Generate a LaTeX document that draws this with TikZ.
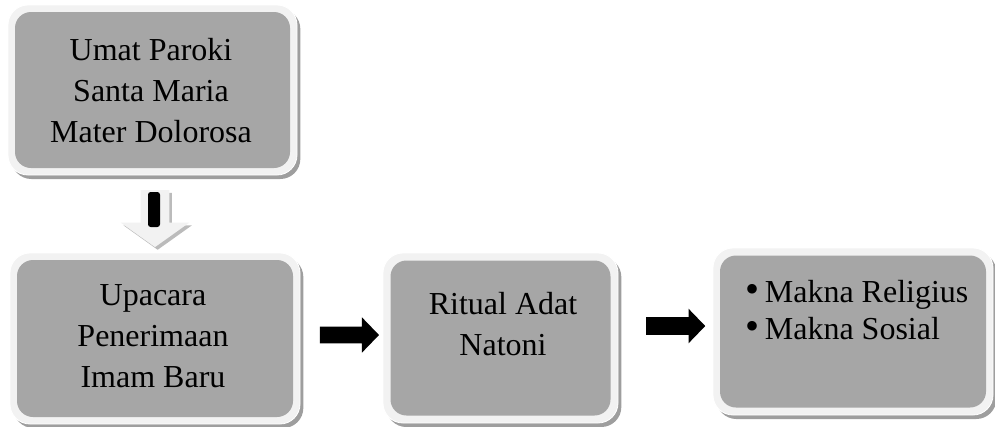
\documentclass[tikz,border=0pt]{standalone}
\usepackage{fontspec}
\setmainfont{Liberation Serif}
\usetikzlibrary{shapes.arrows,shadows,positioning,calc}
\definecolor{panelgray}{RGB}{166,166,166}
\definecolor{framegray}{RGB}{242,242,242}
\definecolor{shadegray}{RGB}{158,158,158}
\tikzset{frame/.style={fill=framegray,draw=white,line width=0.6pt,rounded corners=15pt,
    inner sep=0pt,outer sep=0pt,
    drop shadow={shadow xshift=2.5pt,shadow yshift=-3pt,fill=shadegray,opacity=1}},
  panel/.style={fill=panelgray,draw=none,rounded corners=12pt,inner sep=0pt,outer sep=0pt},
  boxtext/.style={align=center,font=\fontsize{24pt}{30.75pt}\selectfont},
  listtext/.style={align=left,font=\fontsize{24pt}{27.75pt}\selectfont},
  blockarrow/.style={single arrow,fill=black,draw=none,inner xsep=0pt,
    single arrow head indent=0pt}}
\begin{document}
\begin{tikzpicture}[x=0.75pt, y=-0.75pt]
\useasboundingbox (0,0) rectangle (995,426);
% boxes
\node[frame, minimum width=216.75pt, minimum height=127.5pt] (umatframe) at (152.5,90) {};
\node[panel, minimum width=206.25pt, minimum height=117pt] (umat) at (152.5,90) {};
\node[frame, minimum width=217.5pt, minimum height=128.25pt] (upacaraframe) at (155,338.5) {};
\node[panel, minimum width=207pt, minimum height=117.75pt] (upacara) at (155,338.5) {};
\node[frame, minimum width=176.25pt, minimum height=127.5pt] (ritualframe) at (500.5,338) {};
\node[panel, minimum width=165pt, minimum height=116.25pt] (ritual) at (500.5,338) {};
\node[frame, minimum width=210pt, minimum height=125.25pt] (maknaframe) at (853,331.5) {};
\node[panel, minimum width=199.5pt, minimum height=114pt] (makna) at (853,331.5) {};
% texts
\node[boxtext] (umattext) at (151,91) {Umat Paroki\\Santa Maria\\Mater Dolorosa};
\node[boxtext] (upacaratext) at (153,336.5) {Upacara\\Penerimaan\\Imam Baru};
\node[boxtext] (ritualtext) at (503,324) {Ritual Adat\\Natoni};
\node[listtext] (maknatext) at (857,310)
  {\scalebox{1.25}{\textbullet}\hspace{4pt}Makna Religius\\\scalebox{1.25}{\textbullet}\hspace{4pt}Makna Sosial};
% arrows
\node[single arrow, shape border rotate=270, fill=framegray, draw=none,
  inner sep=10.5pt,
  single arrow head indent=0pt, minimum height=42.75pt,
  single arrow head extend=15pt, single arrow tip angle=109,
  drop shadow={shadow xshift=2pt,shadow yshift=-2pt,fill=shadegray!70,opacity=1}]
  (down) at (155,213.5) {};
\node[fill=black, minimum width=9pt, minimum height=26.25pt, inner sep=0pt,
  rounded corners=2pt] (downcore) at (154,209.5) {};
\node[blockarrow, inner ysep=6pt, minimum height=44.25pt,
  single arrow head extend=7.1pt, single arrow tip angle=92] (toritual) at (345.5,335) {};
\node[blockarrow, inner ysep=6.375pt, minimum height=44.25pt,
  single arrow head extend=6.4pt, single arrow tip angle=92] (tomakna) at (671.5,326) {};
\end{tikzpicture}
\end{document}
